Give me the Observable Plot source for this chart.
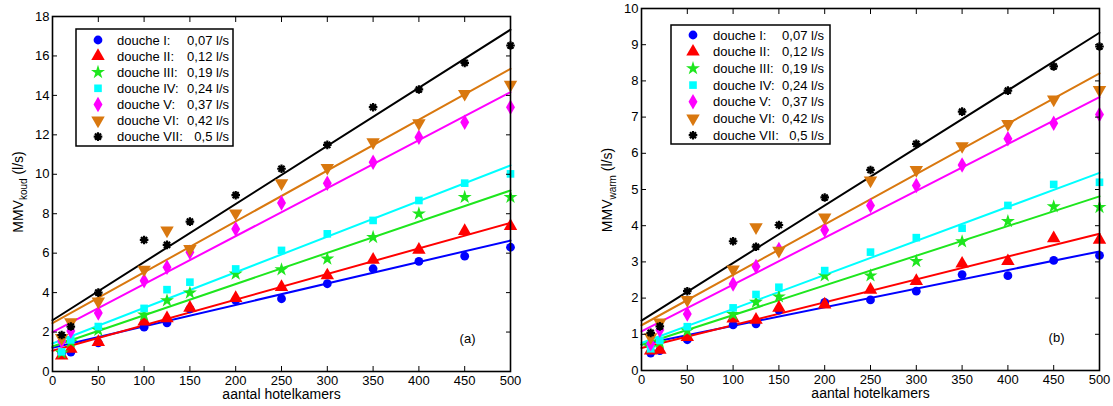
<!DOCTYPE html>
<html><head><meta charset="utf-8">
<script src="https://cdn.jsdelivr.net/npm/d3@7"></script>
<script src="https://cdn.jsdelivr.net/npm/@observablehq/plot@0.6"></script>
<style>
body{margin:0;background:#fff;}
#wrap{display:flex;width:1113px;height:406px;}
#wrap svg{display:block;}
</style></head><body><div id="wrap"></div>
<script>
// ---------- data ----------
const rooms = [10,20,50,100,125,150,200,250,300,350,400,450,500];
const fitRooms = [0, 500];
const xTicks = [0,50,100,150,200,250,300,350,400,450,500];
const yTicksKoud = [0,2,4,6,8,10,12,14,16,18];
const yTicksWarm = [0,1,2,3,4,5,6,7,8,9,10];
const showers = ["douche I:","douche II:","douche III:","douche IV:","douche V:","douche VI:","douche VII:"];
const flows = ["0,07 l/s","0,12 l/s","0,19 l/s","0,24 l/s","0,37 l/s","0,42 l/s","0,5 l/s"];
const colors = ["#0000ff","#ff0000","#1ee61e","#00ffff","#ff00ff","#d9780f","#000000"];

const koudI   = [0.95,0.98,1.45,2.25,2.47,3.18,3.6,3.69,4.45,5.21,5.58,5.85,6.3];
const koudII  = [0.8,1.15,1.49,2.53,2.7,3.23,3.72,4.28,4.87,5.66,6.17,7.12,7.37];
const koudIII = [0.95,1.5,2.1,2.87,3.6,3.99,4.95,5.17,5.71,6.81,8.0,8.84,8.84];
const koudIV  = [1.0,1.6,2.28,3.2,4.15,4.53,5.2,6.14,6.98,7.66,8.67,9.55,10.02];
const koudV   = [1.55,2.05,2.97,4.6,5.29,6.05,7.23,8.55,9.55,10.61,11.88,12.64,13.4];
const koudVI  = [1.7,2.5,3.55,5.17,7.15,6.22,8.02,9.55,10.33,11.63,12.59,14.08,14.54];
const koudVII = [1.85,2.28,4.0,6.67,6.42,7.6,8.94,10.28,11.49,13.4,14.3,15.65,16.53];
const koudFit0   = [1.2,1.05,1.27,1.42,2.0,2.45,2.6];
const koudFit500 = [6.64,7.54,9.18,10.45,14.16,15.35,17.33];

const warmI   = [0.48,0.55,0.85,1.26,1.29,1.67,1.88,1.95,2.19,2.65,2.62,3.04,3.18];
const warmII  = [0.55,0.57,0.92,1.43,1.4,1.73,1.82,2.23,2.47,2.95,3.02,3.65,3.61];
const warmIII = [0.64,0.78,1.1,1.55,1.89,2.04,2.62,2.62,3.02,3.56,4.12,4.53,4.51];
const warmIV  = [0.6,0.83,1.21,1.73,2.1,2.3,2.76,3.27,3.67,3.93,4.56,5.14,5.2];
const warmV   = [0.74,1.12,1.56,2.39,2.87,3.34,3.88,4.56,5.11,5.68,6.4,6.83,7.07];
const warmVI  = [0.92,1.33,1.95,2.79,3.96,3.31,4.23,5.25,5.54,6.2,6.81,7.49,7.75];
const warmVII = [1.04,1.22,2.19,3.57,3.42,4.02,4.78,5.54,6.26,7.15,7.73,8.4,8.95];
const warmFit0   = [0.72,0.62,0.71,0.76,1.08,1.25,1.38];
const warmFit500 = [3.29,3.78,4.81,5.46,7.55,8.21,9.33];

// ---------- symbols ----------
const triangleDown = {draw(ctx, size){ const y = -Math.sqrt(size/(Math.sqrt(3)*3)); ctx.moveTo(0,-y*2); ctx.lineTo(-Math.sqrt(3)*y, y); ctx.lineTo(Math.sqrt(3)*y, y); ctx.closePath(); }};
const burst = {draw(ctx, size){ const r = Math.sqrt(size/Math.PI); for (let k=0;k<4;k++){ const a=k*Math.PI/4, dx=r*Math.cos(a), dy=r*Math.sin(a); ctx.moveTo(-dx,-dy); ctx.lineTo(dx,dy);} }};
const symbols = ["circle","triangle","star","square","diamond",triangleDown,burst];
const d3symbols = [d3.symbolCircle,d3.symbolTriangle,d3.symbolStar,d3.symbolSquare,d3.symbolDiamond,triangleDown,burst];
const radii = [4.4,5.0,4.4,4.3,4.7,5.0,4.3];

const FONT = "'Liberation Sans', Arial, Helvetica, sans-serif";

function panel(o){
  const pts = [];
  o.series.forEach((vals,i)=>vals.forEach((v,j)=>pts.push({x:rooms[j], y:v, s:i})));
  const fits = [];
  o.fit0.forEach((v,i)=>{ fits.push({x:fitRooms[0], y:v, s:i}); fits.push({x:fitRooms[1], y:o.fit500[i], s:i}); });
  const marks = [];
  for (let i=0;i<7;i++){
    marks.push(Plot.line(fits.filter(d=>d.s===i), {x:"x", y:"y", stroke:colors[i], strokeWidth:2}));
  }
  for (let i=0;i<7;i++){
    const d = pts.filter(p=>p.s===i);
    if (i===6) marks.push(Plot.dot(d, {x:"x", y:"y", symbol:symbols[i], r:radii[i], fill:"none", stroke:colors[i], strokeWidth:2.2}));
    else marks.push(Plot.dot(d, {x:"x", y:"y", symbol:symbols[i], r:radii[i], fill:colors[i], stroke:"none"}));
  }
  marks.push(
    Plot.axisX(xTicks, {anchor:"bottom", tickSize:0, tickPadding:4, label:null, fontSize:13}),
    Plot.axisX(xTicks, {anchor:"bottom", tickSize:5, dy:-5, tickFormat:()=>"", label:null}),
    Plot.axisX(xTicks, {anchor:"top", tickSize:5, dy:5, tickFormat:()=>"", label:null}),
    Plot.axisY(o.yTicks, {anchor:"left", tickSize:0, tickPadding:3, label:null, fontSize:13}),
    Plot.axisY(o.yTicks, {anchor:"left", tickSize:5, dx:5, tickFormat:()=>"", label:null}),
    Plot.axisY(o.yTicks, {anchor:"right", tickSize:5, dx:-5, tickFormat:()=>"", label:null}),
    Plot.frame({stroke:"black", strokeWidth:1.6}),
    Plot.text(["aantal hotelkamers"], {frameAnchor:"bottom", dy:27, fontSize:14}),
    Plot.text([o.tag], {frameAnchor:"bottom-right", dx:-35, dy:-29, fontSize:13})
  );
  const svg = Plot.plot({
    width:o.width, height:406,
    marginLeft:o.ml, marginRight:o.mr, marginTop:o.mt, marginBottom:o.mb,
    x:{domain:[0,500]}, y:{domain:[0,o.yMax]},
    style:{fontFamily:FONT, fontSize:"13px", background:"#fff", color:"#000", overflow:"visible"},
    marks
  });
  const s = d3.select(svg);
  // y label with subscript
  const t = s.append("text").attr("transform",`translate(${o.ylx},${o.yly}) rotate(-90)`)
    .attr("text-anchor","middle").attr("font-size",14).attr("fill","#000").attr("font-family",FONT);
  t.append("tspan").text("MMV");
  t.append("tspan").attr("dy",4).attr("font-size",10).text(o.sub);
  t.append("tspan").attr("dy",-4).text(" (l/s)");
  // legend
  const L = o.legend;
  const g = s.append("g").attr("font-family",FONT).attr("font-size",13).attr("text-anchor","start");
  g.append("rect").attr("x",L.x0).attr("y",L.y0).attr("width",L.x1-L.x0).attr("height",L.y1-L.y0)
    .attr("fill","#fff").attr("stroke","#000").attr("stroke-width",1.5);
  for (let i=0;i<7;i++){
    const y = L.row0 + i*L.step;
    const r = radii[i];
    const p = g.append("path").attr("transform",`translate(${L.mx},${y})`)
      .attr("d", d3.symbol(d3symbols[i], Math.PI*r*r)());
    if (i===6) p.attr("fill","none").attr("stroke",colors[i]).attr("stroke-width",2.2);
    else p.attr("fill",colors[i]);
    g.append("text").attr("x",L.tx).attr("y",y).attr("dy","0.35em").attr("text-anchor","start").text(showers[i]);
    g.append("text").attr("x",L.vx).attr("y",y).attr("dy","0.35em").attr("text-anchor","end").text(flows[i]);
  }
  return svg;
}

const wrap = document.getElementById("wrap");
wrap.appendChild(panel({
  series:[koudI,koudII,koudIII,koudIV,koudV,koudVI,koudVII], fit0:koudFit0, fit500:koudFit500,
  yMax:18, yTicks:yTicksKoud, width:556, ml:52, mr:46, mt:16, mb:35,
  tag:"(a)", sub:"koud", ylx:23, yly:192,
  legend:{x0:76,y0:29,x1:233,y1:146,row0:40,step:16.1,mx:98,tx:117,vx:229}
}));
wrap.appendChild(panel({
  series:[warmI,warmII,warmIII,warmIV,warmV,warmVI,warmVII], fit0:warmFit0, fit500:warmFit500,
  yMax:10, yTicks:yTicksWarm, width:557, ml:85, mr:14, mt:8, mb:36,
  tag:"(b)", sub:"warm", ylx:56, yly:190,
  legend:{x0:115,y0:25,x1:274,y1:144,row0:35,step:16.7,mx:137,tx:157,vx:268}
}));
</script></body></html>
